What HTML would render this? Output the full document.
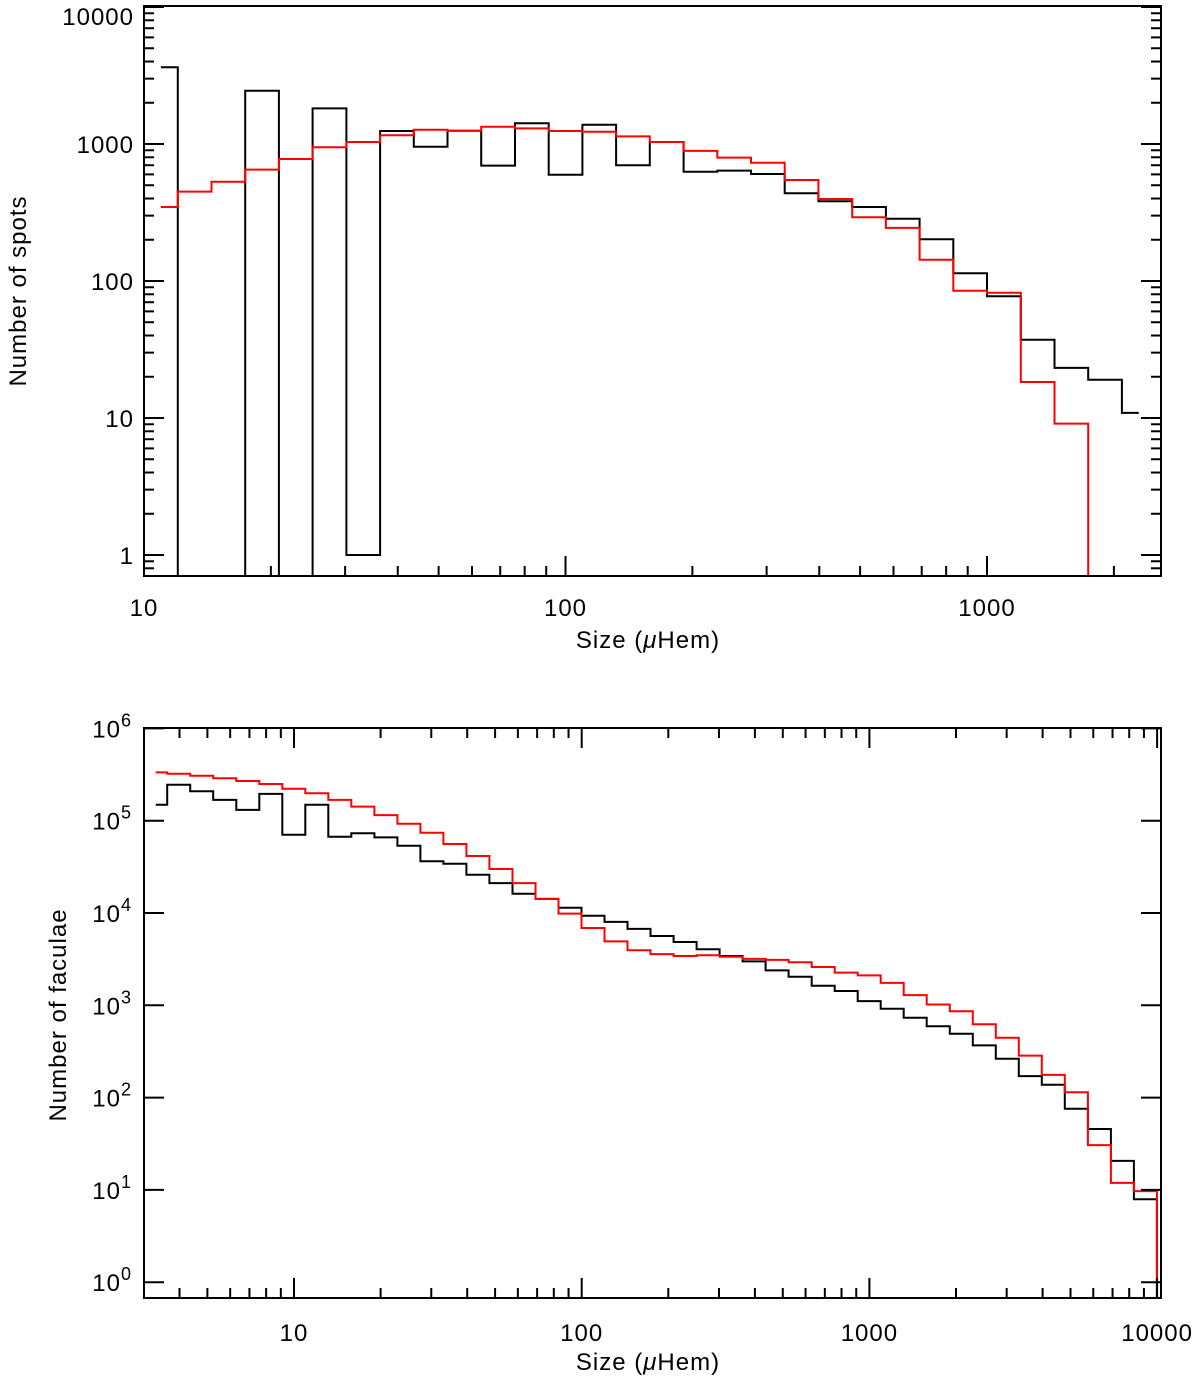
<!DOCTYPE html>
<html><head><meta charset="utf-8"><style>
html,body{margin:0;padding:0;background:#fff;}
svg{display:block;}
text{font-family:"Liberation Sans",sans-serif;fill:#000;}
</style></head><body>
<svg id="chart" width="1200" height="1378" viewBox="0 0 1200 1378" xmlns="http://www.w3.org/2000/svg">
<defs>
<clipPath id="clipTop"><rect x="144" y="6" width="1017" height="570"/></clipPath>
<clipPath id="clipBot"><rect x="144" y="728" width="1017" height="570"/></clipPath>
</defs>
<g id="top"></g>
<g id="bot"></g>
</svg>
<script>
// ---- Top panel data (spots) ----
const spotsLogStart = 1.0401;
const spotsLogStep = 0.08;
const spotsBlack = [3630,0,0,2450,0,1820,1,1245,955,1250,695,1415,597,1380,700,1035,628,640,604,437,382,347,285,202,114,77.3,37.3,23.2,19,10.9];
const spotsRed = [347,449,530,650,777,946,1035,1157,1272,1250,1337,1300,1245,1230,1137,1035,890,795,730,546,397,292,244,143,85,82,18.3,9.1,0,0];
const spotsYTicks = [1,10,100,1000,10000];
const spotsYTickLabels = ["1","10","100","1000","10000"];
const spotsXTicks = [10,100,1000];
const spotsXTickLabels = ["10","100","1000"];

// ---- Bottom panel data (faculae) ----
const facLogStart = 0.5193;
const facLogStep = 0.08;
const facBlack = [149000,245000,208000,168000,131000,195000,70500,149000,67100,73000,66000,53600,36300,34200,26000,21100,16200,14200,11400,9360,8000,6720,5640,4850,4040,3420,2990,2390,2040,1630,1430,1110,919,734,592,493,368,264,171,138,75.9,45.7,20.6,7.9,0];
const facRed = [334000,323000,307000,288000,269000,250000,222000,198000,168000,142000,115000,92900,74100,55900,41500,30000,21100,14200,9840,6880,4930,3940,3590,3420,3480,3360,3180,3100,2920,2600,2260,2110,1750,1290,1020,861,622,446,285,176,114,30.6,11.9,9.7,0];
const facYExps = [0,1,2,3,4,5,6];
const facXTicks = [10,100,1000,10000];
const facXTickLabels = ["10","100","1000","10000"];

const NS = "http://www.w3.org/2000/svg";
function mk(parent, tag, attrs){
  const e = document.createElementNS(NS, tag);
  for (const k in attrs) e.setAttribute(k, attrs[k]);
  parent.appendChild(e);
  return e;
}

function panel(gId, cfg){
  const g = document.getElementById(gId);
  const L=144, R=1161, T=cfg.top, B=cfg.bottom;
  const xs = v => cfg.x0 + (Math.log10(v) - cfg.xRef) * cfg.xDec;
  const ys = v => v <= 0 ? B + 40 : cfg.y0 - (Math.log10(v) - cfg.yRef) * cfg.yDec;
  const drawSeries = (vals, color, name) => {
    let d = "";
    const n = vals.length;
    for (let k = 0; k < n; k++) {
      const c = cfg.logStart + cfg.logStep * k;
      const xc = cfg.x0 + (c - cfg.xRef) * cfg.xDec;
      const half = cfg.logStep * cfg.xDec / 2;
      const y = ys(vals[k]);
      const xa = k === 0 ? xc : xc - half;
      const xb = k === n - 1 ? xc : xc + half;
      d += (k === 0 ? "M" : "L") + xa.toFixed(1) + "," + y.toFixed(1) + "L" + xb.toFixed(1) + "," + y.toFixed(1);
    }
    const p = mk(g, "path", {d: d, fill: "none", stroke: color, "stroke-width": 2, "clip-path": "url(#" + cfg.clip + ")"});
    
    
  };
  drawSeries(cfg.black, "#000", cfg.blackName);
  drawSeries(cfg.red, "#ff0000", cfg.redName);
  const fr = mk(g, "rect", {x: L, y: T, width: R - L, height: B - T, fill: "none", stroke: "#000", "stroke-width": 2});
  
  
  const xMinD = Math.floor(cfg.xMinLog), xMaxD = Math.ceil(cfg.xMaxLog);
  for (let dcd = xMinD; dcd <= xMaxD; dcd++) {
    for (let m = 1; m <= 9; m++) {
      const v = m * Math.pow(10, dcd);
      const x = xs(v);
      if (x < L + 1 || x > R - 1) continue;
      const len = m === 1 ? 20 : 10;
      mk(g, "line", {x1: x, y1: B, x2: x, y2: B - len, stroke: "#000", "stroke-width": 2});
      if (cfg.topTicks) mk(g, "line", {x1: x, y1: T, x2: x, y2: T + len, stroke: "#000", "stroke-width": 2});
    }
  }
  cfg.xTicks.forEach((v, i) => {
    const t = mk(g, "text", {x: xs(v), y: cfg.xLabelY, "text-anchor": "middle", "font-size": 24, "letter-spacing": 1});
    t.textContent = cfg.xTickLabels[i];
    
    
  });
  cfg.yTickDecades.forEach(dcd => {
    const ms = cfg.yMinor ? [1,2,3,4,5,6,7,8,9] : [1];
    ms.forEach(m => {
      const y = ys(m * Math.pow(10, dcd));
      if (y < T || y > B) return;
      const len = m === 1 ? 20 : 10;
      mk(g, "line", {x1: L, y1: y, x2: L + len, y2: y, stroke: "#000", "stroke-width": 2});
      mk(g, "line", {x1: R, y1: y, x2: R - len, y2: y, stroke: "#000", "stroke-width": 2});
    });
  });
  cfg.yLabels(g, ys);
  const xt = mk(g, "text", {x: 648, y: cfg.xTitleY, "text-anchor": "middle", "font-size": 24, "letter-spacing": 1});
  xt.innerHTML = 'Size (<tspan font-style="italic">μ</tspan>Hem)';
  
  
  const yt = mk(g, "text", {x: cfg.yTitleX, y: cfg.yTitleY, "text-anchor": "middle", "font-size": 24, "letter-spacing": 1, transform: "rotate(-90 " + cfg.yTitleX + " " + cfg.yTitleY + ")"});
  yt.textContent = cfg.yTitle;
  
  
}

panel("top", {
  top: 6, bottom: 576, x0: 144, xRef: 1, xDec: 421.5, y0: 144, yRef: 3, yDec: 137,
  xMinLog: 1, xMaxLog: 3.42, logStart: spotsLogStart, logStep: spotsLogStep,
  black: spotsBlack, red: spotsRed, blackName: "spots-observed-histogram", redName: "spots-model-histogram",
  clip: "clipTop", xTicks: spotsXTicks, xTickLabels: spotsXTickLabels, xLabelY: 616, topTicks: false,
  yTickDecades: [-1,0,1,2,3,4], yMinor: true,
  yLabels: (g, ys) => {
    spotsYTicks.forEach((v, i) => {
      const t = mk(g, "text", {x: 134, y: Math.max(ys(v) + 9, 25), "text-anchor": "end", "font-size": 24, "letter-spacing": 1});
      t.textContent = spotsYTickLabels[i];
      
      
    });
  },
  xTitleY: 648, yTitleX: 26, yTitleY: 291, yTitle: "Number of spots"
});

panel("bot", {
  top: 728, bottom: 1298, x0: 294, xRef: 1, xDec: 287.7, y0: 728.4, yRef: 6, yDec: 92.3,
  xMinLog: 0.47, xMaxLog: 4.02, logStart: facLogStart, logStep: facLogStep,
  black: facBlack, red: facRed, blackName: "faculae-observed-histogram", redName: "faculae-model-histogram",
  clip: "clipBot", xTicks: facXTicks, xTickLabels: facXTickLabels, xLabelY: 1341, topTicks: true,
  yTickDecades: facYExps, yMinor: false,
  yLabels: (g, ys) => {
    facYExps.forEach(e => {
      const y = ys(Math.pow(10, e));
      const t = mk(g, "text", {x: 132, y: y + 9, "text-anchor": "end", "font-size": 24, "letter-spacing": 1});
      t.innerHTML = '10<tspan dy="-11" font-size="18">' + e + '</tspan>';
      
      
    });
  },
  xTitleY: 1370, yTitleX: 66, yTitleY: 1015, yTitle: "Number of faculae"
});
</script>
</body></html>
